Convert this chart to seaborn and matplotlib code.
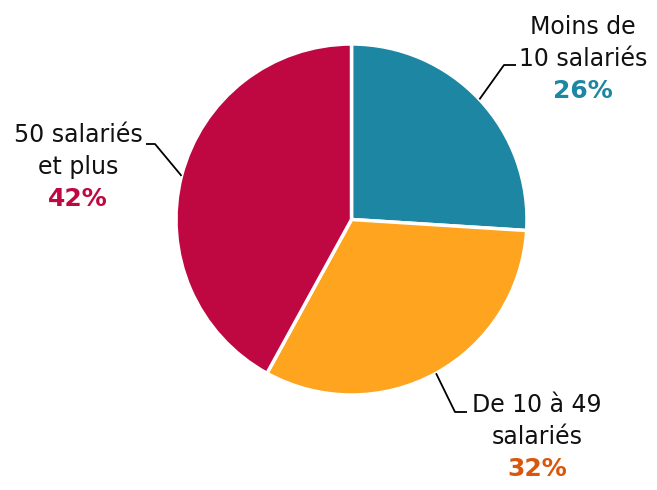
import numpy as np
import matplotlib.pyplot as plt
import seaborn as sns

# Données
categories = [["Moins de", "10 salariés"], ["De 10 à 49", "salariés"], ["50 salariés", "et plus"]]
parts = [26, 32, 42]
couleurs = ["#1d86a2", "#ffa41f", "#bf0742"]
couleurs_pct = ["#1d86a2", "#d9560b", "#bf0742"]

sns.set_theme(style="white")
plt.rcParams['font.family'] = ['DejaVu Sans']

W, H = 657, 490
fig = plt.figure(figsize=(W / 100, H / 100), dpi=100)
ax = fig.add_axes([0, 0, 1, 1])

cx, cy, r = 351.5, H - 219.5, 175.5
wedges, _ = ax.pie(parts, colors=couleurs, startangle=90, counterclock=False,
                   center=(cx, cy), radius=r,
                   wedgeprops=dict(edgecolor="white", linewidth=2.5))
ax.set_xlim(0, W)
ax.set_ylim(0, H)
ax.set_aspect("equal")
ax.axis("off")

# positions des étiquettes (pixels, origine en haut à gauche)
coudes = [[(504, 65), (516, 65)], [(455, 412), (467, 412)], [(155, 144), (146, 144)]]
textes = [(583, 34), (537, 412), (78, 142)]
pas = 32

for w, lignes, pct, col, coude, (tx, ty) in zip(wedges, categories, parts, couleurs_pct, coudes, textes):
    ang = np.deg2rad((w.theta1 + w.theta2) / 2)
    x0 = cx + r * np.cos(ang)
    y0 = cy + r * np.sin(ang)
    xs = [x0] + [p[0] for p in coude]
    ys = [y0] + [H - p[1] for p in coude]
    ax.plot(xs, ys, color="black", lw=1.3, solid_capstyle="butt")
    for i, ligne in enumerate(lignes):
        ax.text(tx, H - ty - i * pas, ligne, ha="center", va="baseline",
                fontsize=17, color="#111111")
    ax.text(tx, H - ty - 2 * pas, f"{pct}%", ha="center", va="baseline",
            fontsize=18, fontweight="bold", color=col)

fig.savefig("out.png", dpi=100)
